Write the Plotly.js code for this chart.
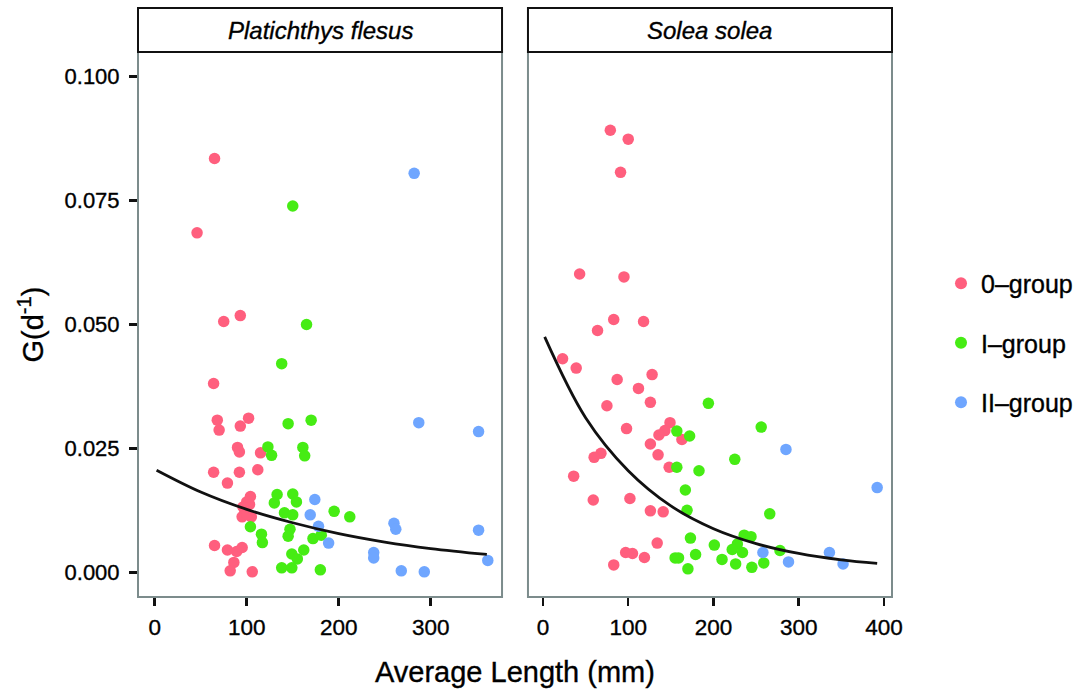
<!DOCTYPE html>
<html><head><meta charset="utf-8">
<script src="https://cdn.plot.ly/plotly-3.0.1.min.js"></script>
<style>body{margin:0;background:#fff}#chart{width:1083px;height:693px}#chart text{stroke:#000;stroke-width:0.35px}</style>
</head><body><div id="chart"></div>
<script>
// Platichthys flesus
const pf0x=[65,46,75,93,64,68,70,102,93,90,92,115,64,92,112,79,104,100,103,96,98,95,105,100,65,79,89,95,86,82,106];
const pf0y=[0.0835,0.0685,0.0506,0.0518,0.0381,0.0307,0.0287,0.0311,0.0295,0.0252,0.0243,0.0241,0.0202,0.0202,0.0207,0.0180,0.0153,0.0142,0.0137,0.0132,0.0122,0.0112,0.0112,0.0117,0.0054,0.0045,0.0042,0.0050,0.0020,0.0003,0.0001];
const pf1x=[150,165,138,145,170,123,127,161,163,133,130,150,154,141,150,195,212,104,116,117,147,145,172,181,149,162,155,138,149,180];
const pf1y=[0.0739,0.0500,0.0421,0.0300,0.0307,0.0253,0.0236,0.0252,0.0235,0.0157,0.0140,0.0158,0.0142,0.0120,0.0116,0.0123,0.0112,0.0092,0.0077,0.0060,0.0087,0.0073,0.0068,0.0075,0.0037,0.0045,0.0027,0.0009,0.0009,0.0005];
const pf2x=[282,287,352,174,169,178,189,260,262,352,238,238,268,293,362];
const pf2y=[0.0805,0.0302,0.0284,0.0147,0.0116,0.0093,0.0059,0.0099,0.0087,0.0085,0.0040,0.0029,0.0003,0.0001,0.0024];
const pfFitX=[2,50,100,150,200,250,300,361];
const pfFitY=[0.0206,0.0162,0.0127,0.0100,0.0078,0.0061,0.0048,0.0036];
// Solea solea
const ss0x=[79,100,91,43,95,83,118,64,23,39,87,128,112,126,75,98,149,143,136,163,126,135,148,68,60,36,59,102,126,141,134,97,105,119,83];
const ss0y=[0.0892,0.0874,0.0807,0.0602,0.0596,0.0510,0.0506,0.0488,0.0431,0.0412,0.0389,0.0399,0.0371,0.0343,0.0336,0.0290,0.0302,0.0286,0.0277,0.0268,0.0259,0.0237,0.0212,0.0240,0.0232,0.0194,0.0146,0.0149,0.0124,0.0122,0.0059,0.0040,0.0038,0.0030,0.0015];
const ss1x=[194,256,157,172,225,157,183,167,169,266,173,236,244,201,228,222,234,278,155,159,179,210,226,259,245,170];
const ss1y=[0.0341,0.0293,0.0285,0.0275,0.0228,0.0212,0.0205,0.0166,0.0125,0.0118,0.0069,0.0075,0.0072,0.0055,0.0057,0.0046,0.0040,0.0044,0.0029,0.0029,0.0036,0.0026,0.0017,0.0019,0.0010,0.0007];
const ss2x=[285,392,258,288,336,352];
const ss2y=[0.0248,0.0171,0.0040,0.0021,0.0040,0.0017];
const ssFitX=[2,50,100,150,200,250,300,350,392];
const ssFitY=[0.0475,0.0312,0.0205,0.0134,0.0088,0.0058,0.0038,0.0025,0.0018];

const panels=['Platichthys flesus','Solea solea'];
const groups=['0–group','I–group','II–group'];
const colors=['#FF5F7E','#46EC14','#6FA6FF'];
const xTicks1=[0,100,200,300];
const xTicks2=[0,100,200,300,400];
const yTicks=[0,0.025,0.05,0.075,0.1];
const yTickText=['0.000','0.025','0.050','0.075','0.100'];

const mk=(c)=>({color:c,size:11.5,line:{width:0}});
function pts(x,y,i,xa,show){return {type:'scatter',mode:'markers',x:x,y:y,xaxis:xa,yaxis:'y',name:groups[i],legendgroup:groups[i],showlegend:show,marker:mk(colors[i]),hoverinfo:'x+y'};}
const data=[
  pts(pf0x,pf0y,0,'x',true),
  pts(pf1x,pf1y,1,'x',true),
  pts(pf2x,pf2y,2,'x',true),
  pts(ss0x,ss0y,0,'x2',false),
  pts(ss1x,ss1y,1,'x2',false),
  pts(ss2x,ss2y,2,'x2',false),
  {type:'scatter',mode:'lines',x:pfFitX,y:pfFitY,xaxis:'x',yaxis:'y',line:{color:'#111',width:2.8,shape:'spline'},showlegend:false,hoverinfo:'skip'},
  {type:'scatter',mode:'lines',x:ssFitX,y:ssFitY,xaxis:'x2',yaxis:'y',line:{color:'#111',width:2.8,shape:'spline'},showlegend:false,hoverinfo:'skip'}
];
const FF='Liberation Sans, Arial, Helvetica, sans-serif';
const F=(s)=>({family:FF,size:s,color:'#000'});
const xbase={showgrid:false,zeroline:false,ticks:'outside',ticklen:8,tickwidth:2.5,tickcolor:'#111',tickfont:F(22.5),ticklabelstandoff:2,showline:false,anchor:'y',fixedrange:true,automargin:false};
const border='#7C8C8C';
const layout={
  width:1083,height:693,paper_bgcolor:'#fff',plot_bgcolor:'#fff',
  margin:{l:138,r:191,t:52,b:96,autoexpand:false},
  font:F(20),
  xaxis:Object.assign({},xbase,{domain:[0,0.4828],range:[-18.2,377.5],tickvals:xTicks1}),
  xaxis2:Object.assign({},xbase,{domain:[0.5172,1],range:[-17.6,409.4],tickvals:xTicks2}),
  yaxis:{range:[-0.00498,0.10498],tickvals:yTicks,ticktext:yTickText,showgrid:false,zeroline:false,ticks:'outside',ticklen:8,tickwidth:2.5,tickcolor:'#111',tickfont:F(22),ticklabelstandoff:5,showline:false,fixedrange:true,automargin:false},
  showlegend:true,
  legend:{x:1.065,xanchor:'left',y:0.466,yanchor:'middle',font:F(25),itemsizing:'constant',tracegroupgap:24,bgcolor:'rgba(0,0,0,0)'},
  shapes:[
    {type:'rect',xref:'x domain',yref:'paper',x0:0,x1:1,y0:0,y1:1,line:{color:border,width:2},layer:'below'},
    {type:'rect',xref:'x2 domain',yref:'paper',x0:0,x1:1,y0:0,y1:1,line:{color:border,width:2},layer:'below'},
    {type:'rect',xref:'x domain',yref:'paper',x0:0,x1:1,y0:1,y1:1.0807,fillcolor:'#fff',line:{color:'#111',width:2}},
    {type:'rect',xref:'x2 domain',yref:'paper',x0:0,x1:1,y0:1,y1:1.0807,fillcolor:'#fff',line:{color:'#111',width:2}}
  ],
  annotations:[
    {xref:'x domain',yref:'paper',x:0.5,y:1.0403,text:'<i>'+panels[0]+'</i>',showarrow:false,font:F(24),xanchor:'center',yanchor:'middle'},
    {xref:'x2 domain',yref:'paper',x:0.5,y:1.0403,text:'<i>'+panels[1]+'</i>',showarrow:false,font:F(24),xanchor:'center',yanchor:'middle'},
    {xref:'paper',yref:'paper',x:0.5,y:-0.1376,text:'Average Length (mm)',showarrow:false,font:F(29),xanchor:'center',yanchor:'middle'},
    {xref:'paper',yref:'paper',x:-0.1432,y:0.5,text:'G(d<sup>-1</sup>)',showarrow:false,font:F(29),textangle:-90,xanchor:'center',yanchor:'middle'}
  ]
};
Plotly.newPlot('chart',data,layout,{staticPlot:true});
</script></body></html>
